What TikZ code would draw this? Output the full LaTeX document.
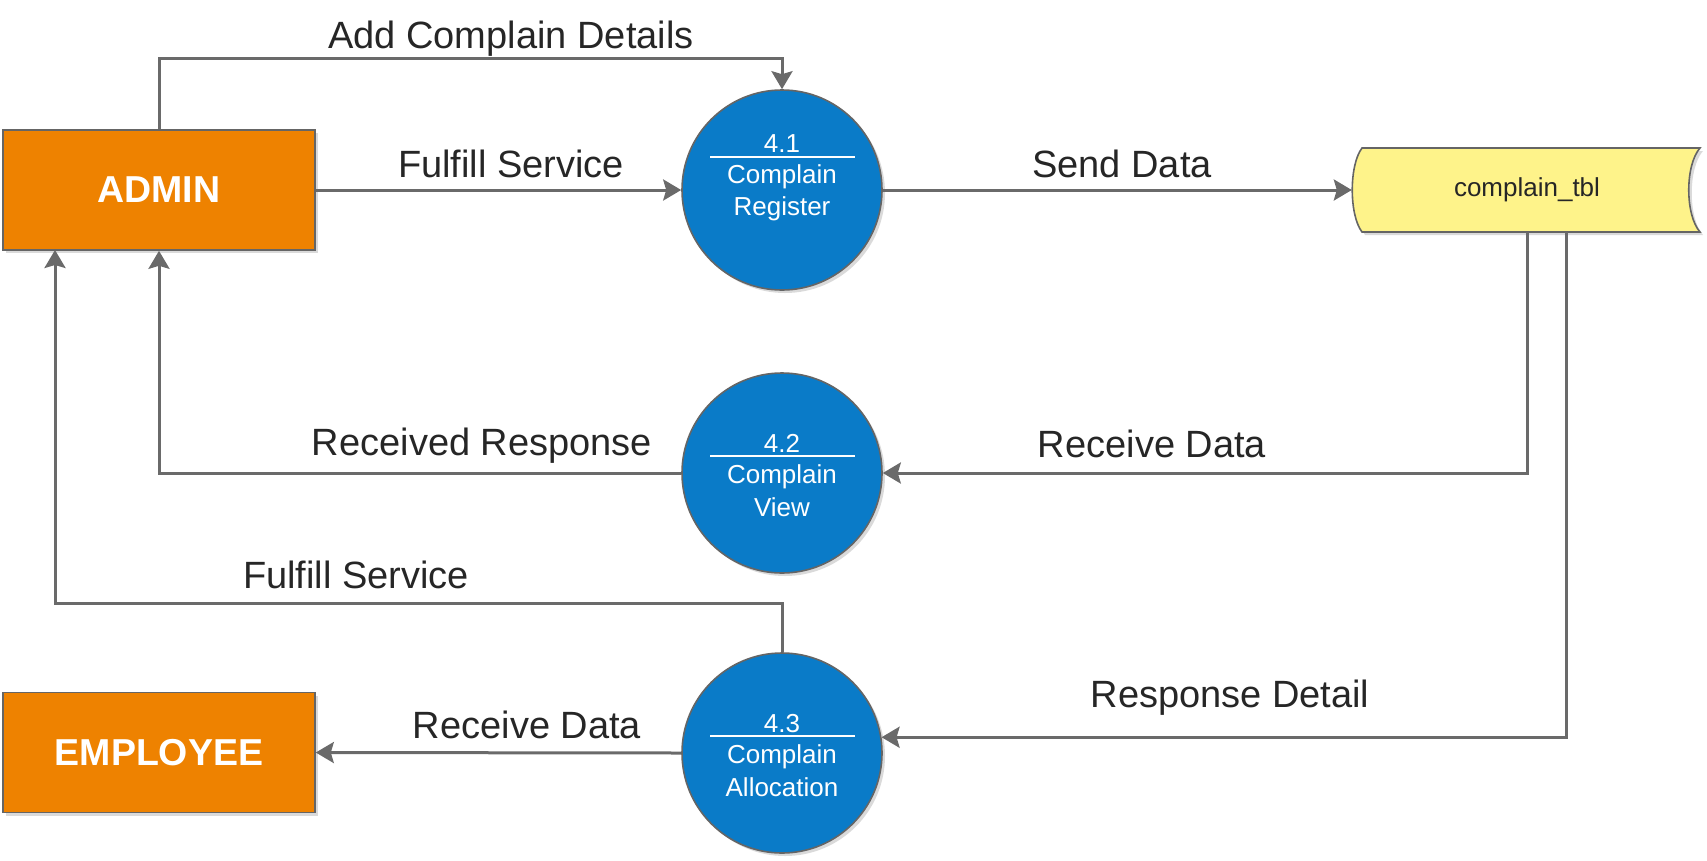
\documentclass[tikz,border=0pt]{standalone}
\usepackage{fontspec}
\setmainfont{Liberation Sans}
\usetikzlibrary{arrows.meta,calc,shadows}
\definecolor{boxorange}{HTML}{EE8200}
\definecolor{procblue}{HTML}{0A7BC8}
\definecolor{storeyellow}{HTML}{FEF38A}
\definecolor{linegray}{HTML}{6A6A6A}
\definecolor{bordergray}{HTML}{656565}
\definecolor{textdark}{HTML}{262626}
\tikzset{
  shad/.style={drop shadow={shadow xshift=3pt,shadow yshift=-3pt,fill=black!18,opacity=0.8}},
  entity/.style={rectangle,draw=bordergray,line width=1.6pt,fill=boxorange,shad,
    minimum width=312pt,minimum height=120pt,inner sep=0pt,
    text=white,font=\fontsize{37.5}{40}\selectfont\bfseries},
  proc/.style={circle,draw=bordergray,line width=1.6pt,fill=procblue,shad,
    minimum size=200pt,inner sep=0pt},
  ptext/.style={anchor=base,text=white,font=\fontsize{26}{28}\selectfont,inner sep=0pt},
  flowlabel/.style={anchor=base,text=textdark,font=\fontsize{38}{40}\selectfont,inner sep=0pt},
  flow/.style={draw=linegray,line width=3pt,-{Stealth[length=18pt,width=21pt,inset=3pt]}},
  pline/.style={draw=white,line width=2pt},
}
\begin{document}
\begin{tikzpicture}[x=1pt,y=-1pt]
\useasboundingbox (0,0) rectangle (1707,860);

% entities
\node[entity] (admin) at (159,190) {ADMIN};
\node[entity] (employee) at (159,752.5) {EMPLOYEE};

% processes
\node[proc] (p41) at (782,190) {};
\node[proc] (p42) at (782,473) {};
\node[proc] (p43) at (782,753) {};

% data store shape
\path[fill=storeyellow,draw=bordergray,line width=1.6pt,shad]
  (1362,148) -- (1700,148) .. controls (1685,165) and (1685,215) .. (1700,232)
  -- (1362,232) .. controls (1349,215) and (1349,165) .. (1362,148) -- cycle;
\node[rectangle,minimum width=350pt,minimum height=84pt,inner sep=0pt,
  text=textdark,font=\fontsize{26}{28}\selectfont] (store) at (1527,190) {complain\_tbl};

% process texts
\node[ptext] (n41) at (782,152) {4.1};
\draw[pline] ($(p41.center)+(-72,-33.5)$) -- ($(p41.center)+(73,-33.5)$);
\node[ptext] (c41) at (782,183) {Complain};
\node[ptext] (r41) at (782,215) {Register};

\node[ptext] (n42) at (782,452) {4.2};
\draw[pline] ($(p42.center)+(-72,-17)$) -- ($(p42.center)+(73,-17)$);
\node[ptext] (c42) at (782,483) {Complain};
\node[ptext] (v42) at (782,516) {View};

\node[ptext] (n43) at (782,732) {4.3};
\draw[pline] ($(p43.center)+(-72,-17)$) -- ($(p43.center)+(73,-17)$);
\node[ptext] (c43) at (782,763) {Complain};
\node[ptext] (a43) at (782,796) {Allocation};

% helper coordinates
\coordinate (addy) at (0,58);
\coordinate (fy) at (0,603);
\coordinate (a2) at (55,250);
\coordinate (s2) at (1566,232);

% connectors
\draw[flow] (admin.north) -- (admin.north |- addy) -| (p41.north);
\draw[flow] (admin.east) -- (p41.west);
\draw[flow] (p41.east) -- (store.west);
\draw[flow] (store.south) |- (p42.east);
\draw[flow] (s2) |- (p43.9.8);
\draw[flow] (p42.west) -| (admin.south);
\draw[flow] (p43.north) |- (a2 |- fy) -- (a2);
\draw[flow] (p43.west) -- (employee.east);

% labels
\node[flowlabel] (l1) at (511,48) {Add Complain Details};
\node[flowlabel] (l2) at (511,177) {Fulfill Service};
\node[flowlabel] (l3) at (1122,177) {Send Data};
\node[flowlabel] (l4) at (482,455) {Received Response};
\node[flowlabel] (l5) at (1152,457) {Receive Data};
\node[flowlabel] (l6) at (356,588) {Fulfill Service};
\node[flowlabel] (l7) at (527,738) {Receive Data};
\node[flowlabel] (l8) at (1230,707) {Response Detail};
\end{tikzpicture}
\end{document}
